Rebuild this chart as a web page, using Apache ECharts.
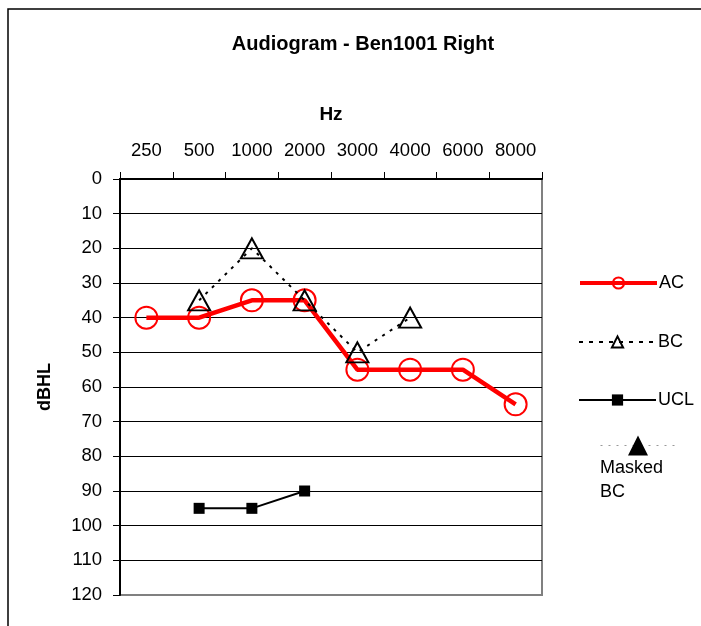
<!DOCTYPE html>
<html><head><meta charset="utf-8">
<script src="https://cdn.jsdelivr.net/npm/echarts@6/dist/echarts.min.js"></script>
<style>html,body{margin:0;padding:0;background:#fff}#c{width:701px;height:626px}</style>
</head><body><div id="c"></div>
<script>
var categories = ['250','500','1000','2000','3000','4000','6000','8000'];
var acValues = [40,40,35,35,55,55,55,65];
var bcValues = ['-',35,20,35,50,40,'-','-'];
var uclValues = ['-',95,95,90,'-','-','-','-'];
var maskedBcValues = [];
var yTicks = {min:0, max:120, interval:10};

var FONT = '"Liberation Sans", Arial, Helvetica, sans-serif';
var chart = echarts.init(document.getElementById('c'), null, {renderer:'canvas'});
var splitColors = [];
for (var i=0;i<=12;i++) splitColors.push(i===12 ? '#808080' : '#000');

function singleLegend(name, top, lw, lt){
  return {
    data:[name], left:578, top:top, orient:'vertical',
    itemWidth:77, itemHeight:14, itemGap:0, padding:0,
    lineStyle:{width:lw, type:lt || 'solid'},
    textStyle:{fontFamily:FONT, fontSize:18, color:'#000', padding:[0,0,0,-3]},
    selectedMode:false
  };
}

chart.setOption({
  animation:false,
  backgroundColor:'#fff',
  title:{text:'Audiogram - Ben1001 Right', left:358, top:29, textAlign:'center',
    textStyle:{fontFamily:FONT, fontSize:20, fontWeight:'bold', color:'#000'}},
  grid:{left:120, top:179, right:159, bottom:31, show:true, borderColor:'#808080', borderWidth:2, backgroundColor:'#fff'},
  legend:[
    singleLegend('AC', 274, 4),
    singleLegend('BC', 333, 2, [4,6]),
    singleLegend('UCL', 391, 2),
    {data:['Masked BC'], left:600, top:433, itemWidth:75, itemHeight:25, padding:0,
     lineStyle:{width:1, type:[2,6]},
     formatter:function(){return '';}, selectedMode:false,
     textStyle:{fontSize:1}}
  ],
  xAxis:{type:'category', data:categories, position:'top', boundaryGap:true,
    name:'Hz', nameLocation:'middle', nameGap:55,
    nameTextStyle:{fontFamily:FONT, fontSize:19, fontWeight:'bold', color:'#000'},
    axisLine:{show:true, lineStyle:{color:'#000', width:2}},
    axisTick:{show:true, length:7, alignWithLabel:false, lineStyle:{color:'#000', width:1}},
    axisLabel:{fontFamily:FONT, fontSize:18.5, color:'#000', margin:19, interval:0},
    splitLine:{show:false}},
  yAxis:{type:'value', inverse:true, min:yTicks.min, max:yTicks.max, interval:yTicks.interval,
    name:'dBHL', nameLocation:'middle', nameGap:66, nameRotate:90,
    nameTextStyle:{fontFamily:FONT, fontSize:18, fontWeight:'bold', color:'#000'},
    axisLine:{show:true, lineStyle:{color:'#000', width:2}},
    axisTick:{show:true, length:7, lineStyle:{color:'#000', width:1}},
    axisLabel:{fontFamily:FONT, fontSize:18.5, color:'#000', margin:18},
    splitLine:{show:true, lineStyle:{color:splitColors, width:1}}},
  graphic:[
    {type:'rect', shape:{x:8, y:9, width:800, height:700}, silent:true, z:-10,
     style:{fill:null, stroke:'#000', lineWidth:1.5}},
    {type:'text', left:600, top:456, silent:true,
     style:{text:'Masked\nBC', font:'18px '+FONT, fill:'#000', lineHeight:24}}
  ],
  series:[
    {name:'AC', type:'line', data:acValues, symbol:'circle', symbolSize:22,
     itemStyle:{color:'rgba(255,0,0,0)', borderColor:'#ff0000', borderWidth:2},
     lineStyle:{color:'#ff0000', width:4.5}, z:3},
    {name:'BC', type:'line', data:bcValues, symbol:'triangle', symbolSize:[22,20],
     itemStyle:{color:'rgba(0,0,0,0)', borderColor:'#000', borderWidth:2},
     lineStyle:{color:'#000', width:2, type:[3,6]}, z:4},
    {name:'UCL', type:'line', data:uclValues, symbol:'rect', symbolSize:11,
     itemStyle:{color:'#000', borderColor:'#000', borderWidth:0},
     lineStyle:{color:'#000', width:2}, z:4},
    {name:'Masked BC', type:'line', data:maskedBcValues, symbol:'triangle', symbolSize:[17,25],
     itemStyle:{color:'#000'},
     lineStyle:{color:'#999', width:1, type:[2,6]}}
  ]
});
</script></body></html>
